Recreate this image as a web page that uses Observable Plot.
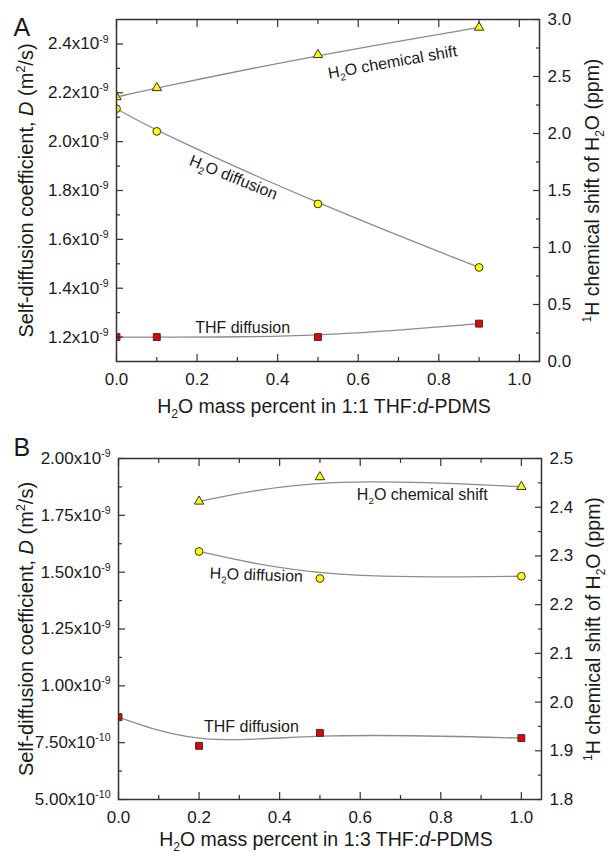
<!DOCTYPE html>
<html>
<head>
<meta charset="utf-8">
<script src="https://cdn.jsdelivr.net/npm/d3@7"></script>
<script src="https://cdn.jsdelivr.net/npm/@observablehq/plot@0.6"></script>
<style>
  body { margin: 0; background: #fff; font-family: "Liberation Sans", Arial, sans-serif; }
  #chart { width: 610px; }
  #chart svg { display: block; }
</style>
</head>
<body>
<div id="chart"></div>
<script>
// ---------- Panel A (1:1 THF:d-PDMS) ----------
const xA = [0, 0.1, 0.5, 0.9];
const shiftA = [2.32, 2.40, 2.69, 2.93];                 // ppm (right axis)
const h2oDiffA = [2.135e-9, 2.042e-9, 1.745e-9, 1.485e-9]; // m^2/s
const thfDiffA = [1.200e-9, 1.200e-9, 1.200e-9, 1.255e-9]; // m^2/s

// ---------- Panel B (1:3 THF:d-PDMS) ----------
const xBH2O = [0.2, 0.5, 1.0];
const shiftB = [2.412, 2.462, 2.442];                     // ppm (right axis)
const h2oDiffB = [1.591e-9, 1.472e-9, 1.482e-9];
const xBTHF = [0, 0.2, 0.5, 1.0];
const thfDiffB = [0.862e-9, 0.736e-9, 0.793e-9, 0.770e-9];

// ---------- Ticks ----------
const xTicks = [0, 0.2, 0.4, 0.6, 0.8, 1.0];
const xMinor = [0.1, 0.3, 0.5, 0.7, 0.9];
const leftTicksA = [1.2e-9, 1.4e-9, 1.6e-9, 1.8e-9, 2.0e-9, 2.2e-9, 2.4e-9];
const leftMinorA = [1.3e-9, 1.5e-9, 1.7e-9, 1.9e-9, 2.1e-9, 2.3e-9];
const rightTicksA = [0, 0.5, 1.0, 1.5, 2.0, 2.5, 3.0];
const rightMinorA = [0.25, 0.75, 1.25, 1.75, 2.25, 2.75];
const leftTicksB = [0.5e-9, 0.75e-9, 1.0e-9, 1.25e-9, 1.5e-9, 1.75e-9, 2.0e-9];
const leftMinorB = [0.625e-9, 0.875e-9, 1.125e-9, 1.375e-9, 1.625e-9, 1.875e-9];
const rightTicksB = [1.8, 1.9, 2.0, 2.1, 2.2, 2.3, 2.4, 2.5];
const rightMinorB = [1.85, 1.95, 2.05, 2.15, 2.25, 2.35, 2.45];

// ---------- Labels ----------
const yLabelLeft = "Self-diffusion coefficient, *{D} (m^{2}/s)";
const yLabelRight = "^{1}H chemical shift of H_{2}O (ppm)";
const xLabelA = "H_{2}O mass percent in 1:1 THF:*{d}-PDMS";
const xLabelB = "H_{2}O mass percent in 1:3 THF:*{d}-PDMS";
const seriesNames = ["H_{2}O chemical shift", "H_{2}O diffusion", "THF diffusion"];

const FRAME = "#333";
const LINE = "#8c8c8c";
const YELLOW = "#ffff00";
const RED = "#e30000";

function fmtSci(v, d) {
  let e = Math.floor(Math.log10(v) + 1e-9);
  let m = v / Math.pow(10, e);
  if (+m.toFixed(d) >= 10) { m /= 10; e++; }
  return m.toFixed(d) + "x10^{" + e + "}";
}

function richify(svg) {
  svg.querySelectorAll("text").forEach(t => {
    const s = t.textContent;
    if (!/[\^_*]\{/.test(s)) return;
    const fs = parseFloat(getComputedStyle(t).fontSize) || 16;
    const parts = [];
    const re = /([\^_*])\{([^}]*)\}/g;
    let last = 0, m;
    while ((m = re.exec(s))) {
      if (m.index > last) parts.push({k: "", s: s.slice(last, m.index)});
      parts.push({k: m[1], s: m[2]});
      last = re.lastIndex;
    }
    if (last < s.length) parts.push({k: "", s: s.slice(last)});
    while (t.firstChild) t.removeChild(t.firstChild);
    let shift = 0;
    for (const p of parts) {
      const ts = document.createElementNS("http://www.w3.org/2000/svg", "tspan");
      let target = 0;
      if (p.k === "^") { target = -0.4 * fs; ts.setAttribute("font-size", 0.62 * fs); }
      else if (p.k === "_") { target = 0.26 * fs; ts.setAttribute("font-size", 0.62 * fs); }
      else if (p.k === "*") { ts.setAttribute("font-style", "italic"); }
      const dy = target - shift;
      if (dy) ts.setAttribute("dy", dy.toFixed(2));
      shift = target;
      ts.textContent = p.s;
      t.appendChild(ts);
    }
  });
}

function panel(o) {
  const toLeft = v => o.yDom[0] + (v - o.rDom[0]) / (o.rDom[1] - o.rDom[0]) * (o.yDom[1] - o.yDom[0]);
  const fromLeft = v => o.rDom[0] + (v - o.yDom[0]) / (o.yDom[1] - o.yDom[0]) * (o.rDom[1] - o.rDom[0]);
  const shiftData = o.xShift.map((x, i) => ({x, y: toLeft(o.shift[i])}));
  const h2oData = o.xShift.map((x, i) => ({x, y: o.h2o[i]}));
  const thfData = o.xThf.map((x, i) => ({x, y: o.thf[i]}));
  const axisStyle = {stroke: FRAME, strokeWidth: 1.2};
  const mid = {textAnchor: "middle", lineAnchor: "middle"};
  const svg = Plot.plot({
    width: 610,
    height: o.height,
    marginLeft: o.ml, marginRight: o.mr, marginTop: o.mt, marginBottom: o.mb,
    x: {domain: [0, 1.05]},
    y: {domain: o.yDom},
    style: {fontFamily: "'Liberation Sans', Arial, sans-serif", fontSize: "17px", color: "#1a1a1a", background: "#fff"},
    marks: [
      // curves
      Plot.line(shiftData, {x: "x", y: "y", curve: "basis", stroke: LINE, strokeWidth: 1.3}),
      Plot.line(h2oData, {x: "x", y: "y", curve: "basis", stroke: LINE, strokeWidth: 1.3}),
      Plot.line(thfData, {x: "x", y: "y", curve: "basis", stroke: LINE, strokeWidth: 1.3}),
      // markers
      Plot.dot(shiftData, {x: "x", y: "y", symbol: "triangle", r: 3.5, fill: YELLOW, stroke: "#333", strokeWidth: 1, clip: true}),
      Plot.dot(h2oData, {x: "x", y: "y", symbol: "circle", r: 3.9, fill: YELLOW, stroke: "#333", strokeWidth: 1, clip: true}),
      Plot.dot(thfData, {x: "x", y: "y", symbol: "square", r: 3.9, fill: RED, stroke: "#333", strokeWidth: 1, clip: true}),
      // series labels
      Plot.text([seriesNames[0]], {x: o.lab[0][0], y: o.lab[0][1], rotate: o.lab[0][2], fontSize: 16, ...mid}),
      Plot.text([seriesNames[1]], {x: o.lab[1][0], y: o.lab[1][1], rotate: o.lab[1][2], fontSize: 16, ...mid}),
      Plot.text([seriesNames[2]], {x: o.lab[2][0], y: o.lab[2][1], rotate: o.lab[2][2], fontSize: 16, ...mid}),
      // frame
      Plot.frame({stroke: FRAME, strokeWidth: 1.5}),
      // x axes (bottom labelled, top mirrored)
      Plot.axisX(xTicks, {anchor: "bottom", tickSize: -7, tickPadding: 18, tickFormat: d => d.toFixed(1), label: null, ...axisStyle}),
      Plot.axisX(xMinor, {anchor: "bottom", tickSize: -4, tickPadding: 0, tickFormat: () => "", label: null, ...axisStyle}),
      Plot.axisX(xTicks, {anchor: "top", tickSize: -7, tickPadding: 0, tickFormat: () => "", label: null, ...axisStyle}),
      Plot.axisX(xMinor, {anchor: "top", tickSize: -4, tickPadding: 0, tickFormat: () => "", label: null, ...axisStyle}),
      // left axis
      Plot.axisY(o.lt, {anchor: "left", tickSize: -7, tickPadding: 15, tickFormat: v => fmtSci(v, o.dec), label: null, ...axisStyle}),
      Plot.axisY(o.lm, {anchor: "left", tickSize: -4, tickPadding: 0, tickFormat: () => "", label: null, ...axisStyle}),
      // right axis (chemical shift, mapped onto the same frame)
      Plot.axisY(o.rt.map(toLeft), {anchor: "right", tickSize: -7, tickPadding: 15, tickFormat: v => fromLeft(v).toFixed(1), label: null, ...axisStyle}),
      Plot.axisY(o.rm.map(toLeft), {anchor: "right", tickSize: -4, tickPadding: 0, tickFormat: () => "", label: null, ...axisStyle}),
      // axis titles
      Plot.text([yLabelLeft], {frameAnchor: "left", dx: o.yl, rotate: -90, fontSize: 20, ...mid}),
      Plot.text([yLabelRight], {frameAnchor: "right", dx: o.yr, rotate: -90, fontSize: 19.5, ...mid}),
      Plot.text([o.xLabel], {frameAnchor: "bottom", dx: -4, dy: o.xl, fontSize: 19.5, ...mid}),
      // panel letter
      Plot.text([o.letter], {frameAnchor: "top-left", dx: o.letterDx, dy: o.letterDy, textAnchor: "start", lineAnchor: "middle", fontSize: 25})
    ]
  });
  return svg;
}

const svgA = panel({
  height: 420, ml: 116, mr: 71, mt: 19, mb: 59,
  yDom: [1.1e-9, 2.5e-9], rDom: [0, 3], dec: 1,
  lt: leftTicksA, lm: leftMinorA, rt: rightTicksA, rm: rightMinorA,
  xShift: xA, shift: shiftA, h2o: h2oDiffA, xThf: xA, thf: thfDiffA,
  lab: [[0.685, 2.325e-9, -10], [0.29, 1.853e-9, 22], [0.313, 1.239e-9, 0]],
  yl: -90, yr: 53, xl: 45, xLabel: xLabelA,
  letter: "A", letterDx: -103, letterDy: 8
});
const svgB = panel({
  height: 440, ml: 118, mr: 69, mt: 38, mb: 61,
  yDom: [0.5e-9, 2.0e-9], rDom: [1.8, 2.5], dec: 2,
  lt: leftTicksB, lm: leftMinorB, rt: rightTicksB, rm: rightMinorB,
  xShift: xBH2O, shift: shiftB, h2o: h2oDiffB, xThf: xBTHF, thf: thfDiffB,
  lab: [[0.754, 1.839e-9, 0], [0.342, 1.487e-9, 2], [0.33, 0.818e-9, 0]],
  yl: -92, yr: 52, xl: 40, xLabel: xLabelB,
  letter: "B", letterDx: -105, letterDy: -11
});
const root = document.getElementById("chart");
root.appendChild(svgA);
root.appendChild(svgB);
richify(svgA);
richify(svgB);
</script>
</body>
</html>
